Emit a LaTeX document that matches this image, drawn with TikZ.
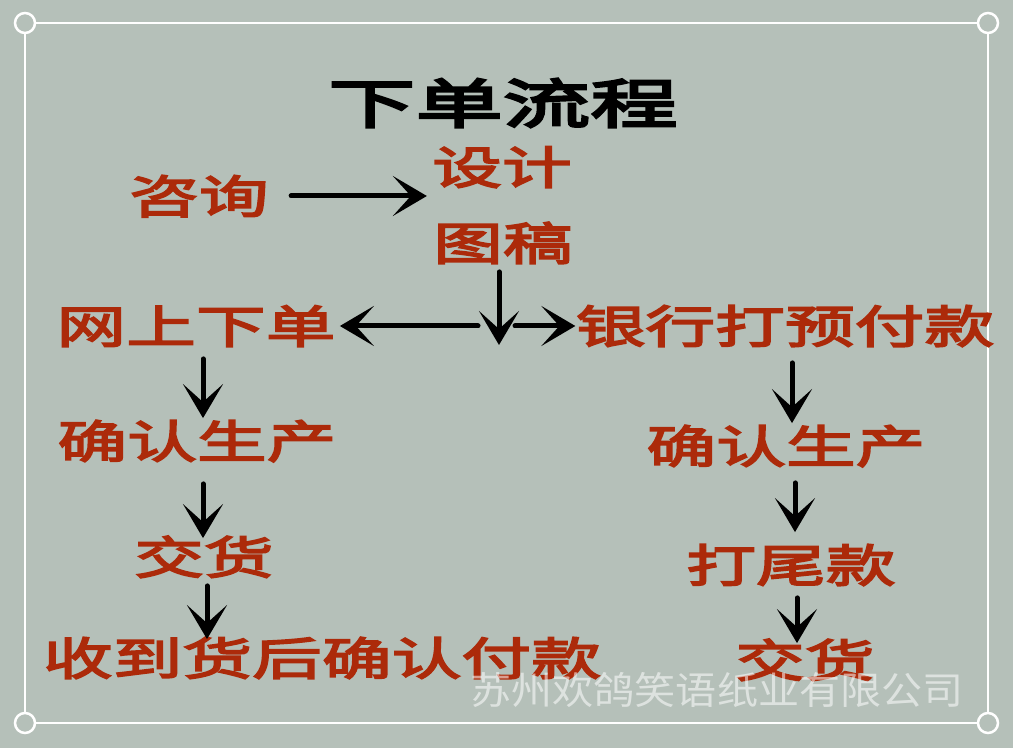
\documentclass[tikz,border=0pt]{standalone}
\usepackage{fontspec}
\usepackage{tikz}
\usetikzlibrary{arrows.meta}
\newfontfamily\redfont[FakeBold=4,FakeStretch=1.55]{Noto Sans CJK SC}
\newfontfamily\titlefont[FakeBold=5,FakeStretch=1.65]{Noto Sans CJK SC}
\newfontfamily\markfont[FakeStretch=1.08]{Noto Sans CJK SC}
\definecolor{paper}{RGB}{181,192,185}
\definecolor{brick}{RGB}{172,42,10}

\begin{document}
\begin{tikzpicture}[x=0.5pt,y=-0.5pt,
    lbl/.style={text=brick,inner sep=0pt,text height=19.8pt,text depth=2.7pt,
      font=\redfont\fontsize{22.5}{22.5}\selectfont},
    titletxt/.style={text=black,inner sep=0pt,font=\titlefont\fontsize{26.5}{26.5}\selectfont},
    wmark/.style={text=white,text opacity=0.55,inner sep=0pt,font=\markfont\fontsize{19}{19}\selectfont},
    arr/.style={-{Stealth[length=17pt,width=20pt,inset=9pt]},line width=2.5pt,line cap=round},
    frame/.style={draw=white,line width=1.25pt}]
          \fill[paper] (0,0) rectangle (1013,748);
          \draw[frame] (25,23) rectangle (988,723);
          \foreach \p in {(25,23),(988,23),(25,723),(988,723)}
            \draw[frame,fill=paper] \p circle (5pt);
          \node[titletxt] (title) at (503,103) {下单流程};
          \node[lbl] (zx) at (199,196) {咨询};
          \node[lbl] (sj) at (502,167) {设计};
          \node[lbl] (tg) at (503,243) {图稿};
          \node[lbl] (wsxd) at (196,326) {网上下单};
          \node[lbl] (yhdk) at (785,326) {银行打预付款};
          \node[lbl] (qrsc) at (197,441) {确认生产};
          \node[lbl] (jh) at (204,557) {交货};
          \node[lbl] (sdfk) at (322,658) {收到货后确认付款};
          \node[lbl] (qrscb) at (786,446) {确认生产};
          \node[lbl] (dwk) at (791,565) {打尾款};
          \node[lbl] (jhb) at (805,660) {交货};
          \node[wmark] (wm) at (717,690) {苏州欢鸽笑语纸业有限公司};
          \coordinate (fork) at (499,345);
          \coordinate (forkl) at (478,326);
          \coordinate (forkr) at (515,326);
          \draw[arr,shorten <=11pt,shorten >=2.5pt] (zx.east) to (zx.east -| sj.west);
          \draw[arr,shorten <=3pt] (tg.south -| fork) to (fork);
          \draw[arr,shorten >=2pt] (forkl) to (wsxd.east);
          \draw[arr] (forkr) to (yhdk.west);
          \draw[arr,shorten <=5pt] ([xshift=3.5pt]wsxd.south) to ([xshift=3pt]qrsc.north);
          \draw[arr,shorten <=10pt,shorten >=-2pt] ([xshift=3pt]qrsc.south) to ([xshift=-0.5pt]jh.north);
          \draw[arr,shorten <=3pt,shorten >=-2pt] ([xshift=1.5pt]jh.south) to ([xshift=-57.5pt]sdfk.north);
          \draw[arr,shorten <=7pt] ([xshift=3.5pt]yhdk.south) to ([xshift=3pt]qrscb.north);
          \draw[arr,shorten <=7pt,shorten >=5pt] ([xshift=4.5pt]qrscb.south) to ([xshift=2pt]dwk.north);
          \draw[arr,shorten <=5pt,shorten >=-3pt] ([xshift=3pt]dwk.south) to ([xshift=-4pt]jhb.north);
        \end{tikzpicture}
\end{document}
